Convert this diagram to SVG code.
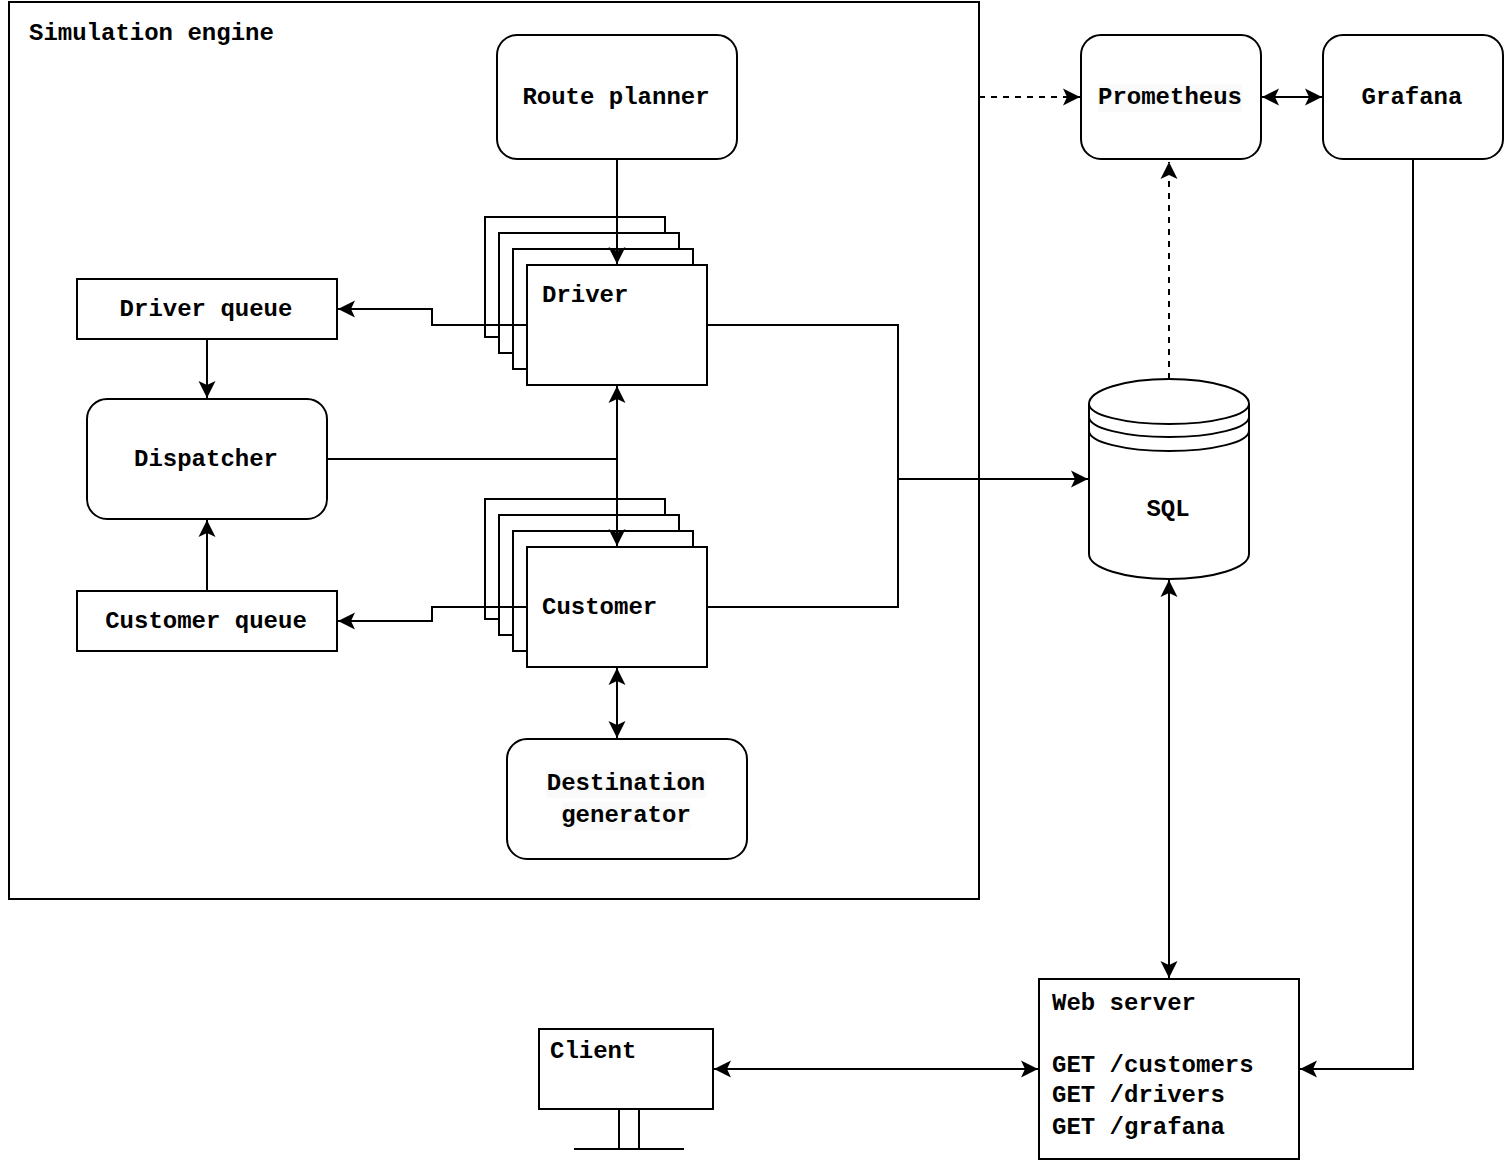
<svg xmlns="http://www.w3.org/2000/svg" width="1506" height="1160" viewBox="0 0 1506 1160">
  <style>
    .box { fill: #fff; stroke: #000; stroke-width: 2; }
    .line { fill: none; stroke: #000; stroke-width: 2; }
    .dash { stroke-dasharray: 6 6; }
    .lbl { font-family: "Liberation Mono", "Courier New", monospace; font-size: 24px; font-weight: 700; fill: #000; }
    .mid { text-anchor: middle; }
    .lblbg { fill: #fafafa; }
  </style>
  <defs>
    <marker id="arrow" markerUnits="userSpaceOnUse" markerWidth="20" markerHeight="20" viewBox="0 0 20 20" refX="17.5" refY="10" orient="auto-start-reverse">
      <path d="M0.5 1.5 L17.5 10 L0.5 18.5 L4.5 10 Z" fill="#000"/>
    </marker>
  </defs>
  <rect width="1506" height="1160" fill="#fff"/>

  <g id="simulation-engine">
    <rect class="box" x="9" y="2" width="970" height="897"/>
    <text class="lbl" x="29" y="40">Simulation engine</text>
  </g>
  <g id="route-planner">
    <rect class="box" x="497" y="35" width="240" height="124" rx="20"/>
    <text class="lbl mid" x="616" y="104">Route planner</text>
  </g>
  <g id="driver">
    <rect class="box" x="485" y="217" width="180" height="120"/>
    <rect class="box" x="499" y="233" width="180" height="120"/>
    <rect class="box" x="513" y="249" width="180" height="120"/>
    <rect class="box" x="527" y="265" width="180" height="120"/>
    <text class="lbl" x="542" y="302">Driver</text>
  </g>
  <g id="driver-queue">
    <rect class="box" x="77" y="279" width="260" height="60"/>
    <text class="lbl mid" x="206" y="316">Driver queue</text>
  </g>
  <g id="dispatcher">
    <rect class="box" x="87" y="399" width="240" height="120" rx="20"/>
    <text class="lbl mid" x="206" y="466">Dispatcher</text>
  </g>
  <g id="customer-queue">
    <rect class="box" x="77" y="591" width="260" height="60"/>
    <text class="lbl mid" x="206" y="628">Customer queue</text>
  </g>
  <g id="customer">
    <rect class="box" x="485" y="499" width="180" height="120"/>
    <rect class="box" x="499" y="515" width="180" height="120"/>
    <rect class="box" x="513" y="531" width="180" height="120"/>
    <rect class="box" x="527" y="547" width="180" height="120"/>
    <text class="lbl" x="542" y="614">Customer</text>
  </g>
  <g id="destination-generator">
    <rect class="box" x="507" y="739" width="240" height="120" rx="20"/>
    <rect class="lblbg" x="546" y="770" width="160" height="28"/>
    <rect class="lblbg" x="562" y="802" width="128" height="28"/>
    <text class="lbl mid" x="626" y="790">Destination</text>
    <text class="lbl mid" x="626" y="822">generator</text>
  </g>
  <g id="prometheus">
    <rect class="box" x="1081" y="35" width="180" height="124" rx="20"/>
    <rect class="lblbg" x="1098" y="84" width="144" height="28"/>
    <text class="lbl mid" x="1170" y="104">Prometheus</text>
  </g>
  <g id="grafana">
    <rect class="box" x="1323" y="35" width="180" height="124" rx="20"/>
    <text class="lbl mid" x="1412" y="104">Grafana</text>
  </g>
  <g id="sql">
    <path class="box" d="M1089 404 C1089 390 1125 379 1169 379 C1213 379 1249 390 1249 404 L1249 554 C1249 568 1213 579 1169 579 C1125 579 1089 568 1089 554 Z"/>
    <path class="line" d="M1089 404 C1089 415 1125 424 1169 424 C1213 424 1249 415 1249 404"/>
    <path class="line" d="M1089 417 C1089 428 1125 437 1169 437 C1213 437 1249 428 1249 417"/>
    <path class="line" d="M1089 431 C1089 442 1125 451 1169 451 C1213 451 1249 442 1249 431"/>
    <text class="lbl mid" x="1168" y="516">SQL</text>
  </g>
  <g id="web-server">
    <rect class="box" x="1039" y="979" width="260" height="180"/>
    <text class="lbl" x="1052" y="1010">Web server</text>
    <text class="lbl" x="1052" y="1072">GET /customers</text>
    <text class="lbl" x="1052" y="1102">GET /drivers</text>
    <text class="lbl" x="1052" y="1134">GET /grafana</text>
  </g>
  <g id="client">
    <rect class="box" x="539" y="1029" width="174" height="80"/>
    <path class="line" d="M619 1109 V1149 M639 1109 V1149 M574 1149 H684"/>
    <text class="lbl" x="550" y="1058">Client</text>
  </g>

  <g id="connectors">
    <path class="line" d="M617 159 V264" marker-end="url(#arrow)"/>
    <path class="line" d="M527 325 H432 V309 H338" marker-end="url(#arrow)"/>
    <path class="line" d="M527 607 H432 V621 H338" marker-end="url(#arrow)"/>
    <path class="line" d="M207 339 V398" marker-end="url(#arrow)"/>
    <path class="line" d="M207 591 V520" marker-end="url(#arrow)"/>
    <path class="line" d="M327 459 H617"/>
    <path class="line" d="M617 386 V546" marker-start="url(#arrow)" marker-end="url(#arrow)"/>
    <path class="line" d="M617 668 V738" marker-start="url(#arrow)" marker-end="url(#arrow)"/>
    <path class="line" d="M707 325 H898 V479"/>
    <path class="line" d="M707 607 H898 V479 H1088" marker-end="url(#arrow)"/>
    <path class="line dash" d="M979 97 H1080" marker-end="url(#arrow)"/>
    <path class="line dash" d="M1169 379 V162" marker-end="url(#arrow)"/>
    <path class="line" d="M1262 97 H1322" marker-start="url(#arrow)" marker-end="url(#arrow)"/>
    <path class="line" d="M1169 580 V978" marker-start="url(#arrow)" marker-end="url(#arrow)"/>
    <path class="line" d="M1413 159 V1069 H1300" marker-end="url(#arrow)"/>
    <path class="line" d="M714 1069 H1038" marker-start="url(#arrow)" marker-end="url(#arrow)"/>
  </g>
</svg>
